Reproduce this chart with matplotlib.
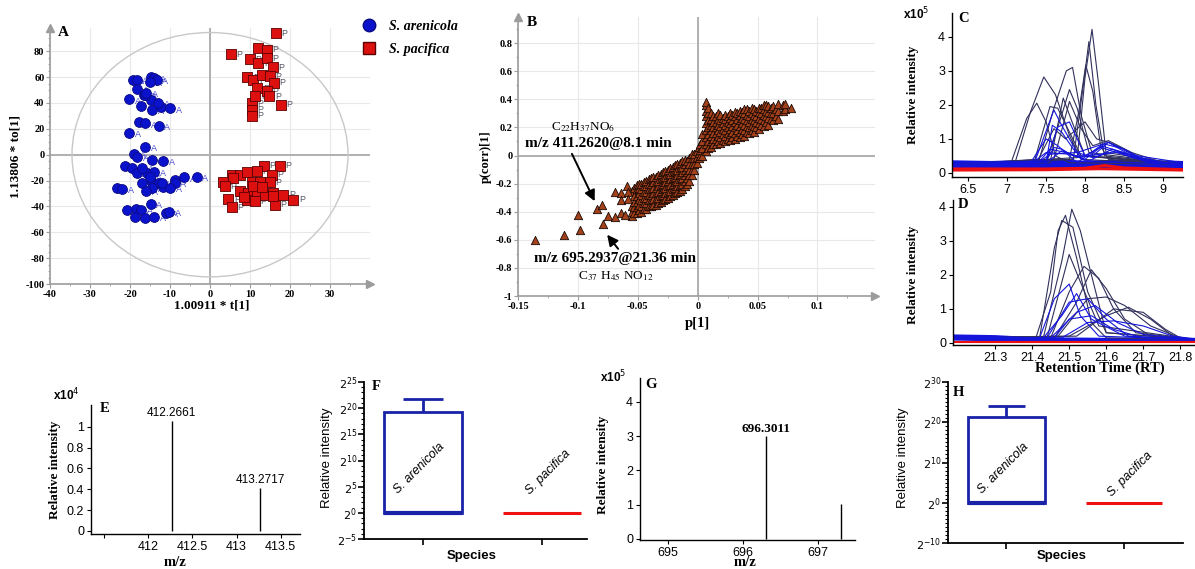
import matplotlib
matplotlib.use('Agg')
import matplotlib.pyplot as plt
from matplotlib.patches import Ellipse
from matplotlib.ticker import MultipleLocator, FuncFormatter

plt.rcParams['axes.unicode_minus'] = False

W, H = 1195, 569
SERIF = 'Liberation Serif'
SANS = 'Liberation Sans'

# ---- panel A: OPLS-DA scores ----
are_x = [-19.3, -18.3, -14.8, -14.0, -13.3, -18.2, -16.5, -20.2, -14.8, -16.2, -17.2, -14.5,
         -12.2, -10.0, -17.7, -16.2, -12.8, -20.2, -16.2, -19.0, -18.2, -14.5, -11.7, -21.3,
         -19.5, -18.3, -15.8, -14.0, -17.0, -14.5, -12.7, -14.5, -11.7, -8.8, -6.5, -3.3,
         -8.8, -23.3, -22.0, -18.5, -17.2, -20.7, -18.8, -16.2, -14.0, -14.8, -11.0, -10.2,
         -15.0, -16.0, -13.0, -12.0, -15.0, -17.0, -16.0, -10.0]
are_y = [58.1, 57.6, 60.2, 59.7, 57.6, 51.2, 46.0, 42.7, 42.2, 46.0, 37.6, 34.5,
         37.0, 35.8, 25.5, 24.2, 22.4, 17.0, 6.2, 0.5, -1.5, -4.1, -4.9, -8.5,
         -10.5, -13.9, -13.9, -13.1, -21.6, -20.8, -22.1, -26.0, -25.2, -19.5, -17.5, -17.0,
         -21.6, -25.5, -26.5, -42.2, -42.7, -42.7, -48.4, -48.9, -47.8, -38.1, -44.8, -44.2,
         56.0, 48.0, 40.0, -22.0, -17.0, -10.0, -28.0, -26.0]
pac_x = [16.5, 5.2, 12.1, 14.2, 10.0, 12.1, 14.2, 15.7, 9.3, 10.8, 12.9, 15.0, 16.0, 11.8,
         14.2, 14.8, 17.7, 10.4, 10.4, 10.4, 11.3,
         13.5, 17.5, 5.4, 7.5, 9.3, 11.7, 15.4, 3.3, 5.8, 10.4, 12.5, 15.0, 3.75, 7.5, 9.6,
         11.7, 13.75, 15.8, 18.3, 20.8, 4.6, 5.4, 9.2, 11.25, 16.25, 15.8, 10.8, 13.0, 8.5]
pac_y = [93.9, 77.7, 82.4, 81.2, 73.8, 70.8, 74.7, 67.6, 59.9, 57.9, 61.8, 61.0, 55.8, 51.5,
         49.0, 45.2, 38.7, 40.0, 34.9, 30.3, 45.5,
         -8.5, -8.5, -15.4, -15.4, -13.6, -12.9, -15.4, -21.3, -17.9, -21.3, -21.3, -21.3, -24.4,
         -28.3, -29.6, -28.3, -30.9, -29.6, -30.9, -34.7, -34.2, -40.3, -34.7, -35.9, -38.6,
         -31.7, -24.4, -25.0, -33.0]

# ---- panel B: S-plot, columns of (p[1], [p(corr)[1] ...]) ----
splot_cols = [
    (-0.055, [-0.43, -0.40, -0.36, -0.25]),
    (-0.053, [-0.41, -0.37, -0.33, -0.29, -0.23]),
    (-0.051, [-0.41, -0.37, -0.33, -0.29, -0.24, -0.21]),
    (-0.049, [-0.39, -0.35, -0.31, -0.27, -0.23, -0.20]),
    (-0.047, [-0.40, -0.36, -0.32, -0.28, -0.24, -0.20]),
    (-0.045, [-0.38, -0.34, -0.30, -0.26, -0.22, -0.19]),
    (-0.043, [-0.38, -0.34, -0.30, -0.26, -0.22, -0.18]),
    (-0.041, [-0.36, -0.32, -0.28, -0.24, -0.20, -0.17]),
    (-0.039, [-0.36, -0.32, -0.28, -0.24, -0.20, -0.16]),
    (-0.037, [-0.35, -0.31, -0.27, -0.23, -0.19, -0.15]),
    (-0.035, [-0.35, -0.31, -0.27, -0.23, -0.19, -0.15]),
    (-0.033, [-0.34, -0.30, -0.26, -0.22, -0.18, -0.14]),
    (-0.031, [-0.33, -0.29, -0.25, -0.21, -0.17, -0.13]),
    (-0.029, [-0.32, -0.28, -0.24, -0.20, -0.16, -0.12]),
    (-0.027, [-0.31, -0.27, -0.23, -0.19, -0.15, -0.11]),
    (-0.025, [-0.30, -0.26, -0.22, -0.18, -0.14, -0.10]),
    (-0.023, [-0.29, -0.25, -0.21, -0.17, -0.13, -0.09]),
    (-0.021, [-0.28, -0.24, -0.20, -0.16, -0.12, -0.08]),
    (-0.019, [-0.27, -0.23, -0.19, -0.15, -0.11, -0.07]),
    (-0.017, [-0.26, -0.22, -0.18, -0.14, -0.10, -0.06]),
    (-0.015, [-0.25, -0.21, -0.17, -0.13, -0.09, -0.05]),
    (-0.013, [-0.24, -0.20, -0.16, -0.12, -0.08, -0.04]),
    (-0.011, [-0.22, -0.18, -0.14, -0.10, -0.06, -0.03]),
    (-0.009, [-0.20, -0.16, -0.12, -0.08, -0.04]),
    (-0.007, [-0.18, -0.14, -0.10, -0.06, -0.02]),
    (-0.005, [-0.14, -0.10, -0.06, -0.02, 0.01]),
    (-0.003, [-0.10, -0.06, -0.02, 0.01]),
    (-0.001, [-0.05, -0.01, 0.03]),
    (0.001, [-0.02, 0.02, 0.06]),
    (0.002, [0.0, 0.04, 0.08]),
    (0.004, [0.0, 0.05, 0.10, 0.15]),
    (0.007, [0.03, 0.08, 0.13, 0.18, 0.23, 0.28, 0.32, 0.36, 0.38]),
    (0.009, [0.05, 0.10, 0.15, 0.20, 0.25, 0.30, 0.34]),
    (0.011, [0.06, 0.10, 0.14, 0.18, 0.22, 0.26, 0.30]),
    (0.013, [0.08, 0.12, 0.16, 0.20, 0.24, 0.28]),
    (0.015, [0.08, 0.12, 0.16, 0.20, 0.24, 0.28]),
    (0.017, [0.10, 0.14, 0.18, 0.22, 0.26, 0.30]),
    (0.019, [0.09, 0.13, 0.17, 0.21, 0.25, 0.29]),
    (0.021, [0.11, 0.15, 0.19, 0.23, 0.27]),
    (0.023, [0.10, 0.14, 0.18, 0.22, 0.26, 0.29]),
    (0.025, [0.12, 0.16, 0.20, 0.24, 0.28]),
    (0.027, [0.11, 0.15, 0.19, 0.23, 0.27, 0.30]),
    (0.029, [0.13, 0.17, 0.21, 0.25, 0.29]),
    (0.031, [0.12, 0.16, 0.20, 0.24, 0.28, 0.31]),
    (0.033, [0.14, 0.18, 0.22, 0.26, 0.30]),
    (0.035, [0.13, 0.17, 0.21, 0.25, 0.29, 0.32]),
    (0.037, [0.15, 0.19, 0.23, 0.27, 0.31]),
    (0.039, [0.14, 0.18, 0.22, 0.26, 0.30, 0.33]),
    (0.041, [0.17, 0.21, 0.25, 0.29, 0.33]),
    (0.043, [0.16, 0.20, 0.24, 0.28, 0.32]),
    (0.045, [0.18, 0.22, 0.26, 0.30, 0.34]),
    (0.047, [0.17, 0.21, 0.25, 0.29, 0.33]),
    (0.049, [0.20, 0.24, 0.28, 0.32]),
    (0.051, [0.19, 0.23, 0.27, 0.31, 0.34]),
    (0.053, [0.22, 0.26, 0.30, 0.34]),
    (0.055, [0.21, 0.25, 0.29, 0.33, 0.36]),
    (0.057, [0.24, 0.28, 0.32, 0.36]),
    (0.059, [0.22, 0.27, 0.31, 0.35]),
    (0.061, [0.26, 0.30, 0.34]),
    (0.063, [0.25, 0.30, 0.35]),
    (0.065, [0.28, 0.33]),
    (0.067, [0.26, 0.32, 0.37]),
    (0.071, [0.32, 0.36]),
    (0.073, [0.33, 0.37]),
    (0.078, [0.34]),
]
outlier_x = [-0.136, -0.112, -0.100, -0.098, -0.084, -0.080, -0.079, -0.075, -0.069, -0.069,
             -0.064, -0.064, -0.059, -0.058, -0.058, -0.064, -0.061]
outlier_y = [-0.60, -0.567, -0.42, -0.53, -0.38, -0.35, -0.49, -0.43, -0.44, -0.257,
             -0.27, -0.32, -0.214, -0.26, -0.31, -0.41, -0.42]

# ---- panels C, D: extracted ion chromatograms (x10^5) ----
c_dark = [
    [(6.3, 0.25), (7.05, 0.3), (7.25, 1.6), (7.38, 2.05), (7.5, 1.5), (7.62, 0.5), (7.8, 0.3), (9.25, 0.25)],
    [(6.3, 0.25), (7.1, 0.3), (7.3, 1.8), (7.47, 2.82), (7.62, 2.3), (7.8, 1.1), (7.95, 0.4), (9.25, 0.25)],
    [(6.3, 0.25), (7.4, 0.3), (7.6, 1.9), (7.76, 3.0), (7.84, 3.1), (7.95, 1.7), (8.1, 0.5), (9.25, 0.25)],
    [(6.3, 0.25), (7.5, 0.3), (7.7, 1.7), (7.8, 2.45), (7.9, 1.9), (8.05, 0.6), (9.25, 0.25)],
    [(6.3, 0.25), (7.55, 0.3), (7.72, 2.2), (7.85, 1.4), (8.0, 0.5), (9.25, 0.25)],
    [(6.3, 0.25), (7.35, 0.35), (7.55, 1.95), (7.65, 1.9), (7.8, 1.2), (7.95, 0.5), (9.25, 0.25)],
    [(6.3, 0.25), (7.8, 0.4), (7.92, 1.8), (8.01, 3.17), (8.1, 2.4), (8.2, 0.8), (8.3, 0.4), (9.25, 0.25)],
    [(6.3, 0.25), (7.85, 0.4), (7.98, 2.6), (8.05, 3.86), (8.14, 2.0), (8.25, 0.5), (9.25, 0.25)],
    [(6.3, 0.25), (7.9, 0.45), (8.0, 2.8), (8.09, 4.22), (8.17, 2.7), (8.27, 0.6), (9.25, 0.25)],
    [(6.3, 0.25), (7.4, 0.4), (7.6, 1.3), (7.75, 1.0), (8.0, 1.5), (8.15, 1.0), (8.3, 0.9), (8.5, 0.7), (8.8, 0.3), (9.25, 0.25)],
    [(6.3, 0.25), (7.6, 0.4), (7.8, 2.1), (7.95, 1.3), (8.1, 0.8), (8.3, 0.95), (8.6, 0.6), (9.0, 0.3), (9.25, 0.25)],
]
c_blue = [
    [(6.3, 0.3), (7.3, 0.3), (7.5, 1.0), (7.65, 0.8), (7.9, 0.3), (8.2, 0.8), (8.5, 0.6), (8.8, 0.3), (9.25, 0.28)],
    [(6.3, 0.2), (7.35, 0.3), (7.6, 1.85), (7.7, 1.4), (7.9, 0.6), (8.3, 0.9), (8.6, 0.5), (9.25, 0.2)],
    [(6.3, 0.22), (7.4, 0.3), (7.55, 0.7), (7.75, 0.6), (8.0, 0.4), (8.25, 0.85), (8.5, 0.7), (8.8, 0.35), (9.25, 0.22)],
    [(6.3, 0.18), (7.3, 0.25), (7.5, 0.6), (7.8, 0.55), (8.05, 0.35), (8.35, 0.7), (8.6, 0.45), (9.25, 0.2)],
    [(6.3, 0.15), (7.45, 0.2), (7.7, 0.65), (7.95, 0.45), (8.2, 0.75), (8.55, 0.5), (8.9, 0.25), (9.25, 0.15)],
    [(6.3, 0.3), (7.5, 0.35), (7.65, 1.35), (7.8, 1.5), (8.0, 0.5), (8.4, 0.6), (9.25, 0.3)],
    [(6.3, 0.28), (7.5, 0.35), (7.6, 0.75), (7.7, 0.7), (7.85, 0.5), (8.1, 0.5), (8.3, 0.9), (8.45, 0.75), (8.7, 0.4), (9.25, 0.25)],
    [(6.3, 0.2), (7.4, 0.3), (7.55, 0.55), (7.9, 0.6), (8.1, 0.45), (8.4, 0.65), (8.7, 0.45), (9.0, 0.3), (9.25, 0.2)],
    [(6.3, 0.25), (7.5, 0.3), (7.58, 1.4), (7.7, 1.2), (7.85, 0.7), (8.0, 0.35), (9.25, 0.25)],
]
c_base = [
    [(6.3, 0.31), (6.8, 0.29), (7.2, 0.32), (7.6, 0.34), (8.0, 0.3), (8.6, 0.34), (9.25, 0.29)],
    [(6.3, 0.23), (6.8, 0.21), (7.2, 0.24), (7.6, 0.27), (8.0, 0.24), (8.6, 0.29), (9.25, 0.21)],
    [(6.3, 0.15), (6.8, 0.14), (7.2, 0.17), (7.6, 0.2), (8.0, 0.17), (8.6, 0.2), (9.25, 0.14)],
]
c_red = [
    [(6.3, 0.12), (7.5, 0.12), (8.0, 0.14), (8.25, 0.22), (8.5, 0.15), (9.25, 0.1)],
    [(6.3, 0.08), (7.5, 0.09), (8.2, 0.12), (9.25, 0.08)],
]
d_dark = [
    [(21.19, 0.15), (21.41, 0.15), (21.45, 1.5), (21.47, 3.3), (21.49, 3.75), (21.52, 2.5), (21.56, 0.6), (21.6, 0.15), (21.84, 0.1)],
    [(21.19, 0.15), (21.43, 0.15), (21.48, 2.4), (21.507, 3.93), (21.53, 3.3), (21.56, 2.0), (21.6, 0.3), (21.84, 0.1)],
    [(21.19, 0.15), (21.42, 0.15), (21.46, 2.8), (21.48, 3.6), (21.51, 3.4), (21.55, 1.5), (21.6, 0.3), (21.84, 0.1)],
    [(21.19, 0.15), (21.44, 0.15), (21.5, 2.6), (21.53, 1.8), (21.58, 0.5), (21.84, 0.1)],
    [(21.19, 0.15), (21.45, 0.15), (21.5, 1.5), (21.54, 2.25), (21.58, 1.9), (21.62, 1.0), (21.68, 0.3), (21.84, 0.1)],
    [(21.19, 0.15), (21.46, 0.15), (21.52, 1.2), (21.56, 2.15), (21.6, 1.6), (21.65, 0.7), (21.72, 0.2), (21.84, 0.1)],
    [(21.19, 0.15), (21.5, 0.2), (21.6, 0.8), (21.66, 1.05), (21.72, 0.7), (21.78, 0.2), (21.84, 0.1)],
    [(21.19, 0.15), (21.52, 0.2), (21.62, 1.0), (21.7, 0.9), (21.76, 0.4), (21.8, 0.15), (21.84, 0.1)],
    [(21.19, 0.15), (21.47, 0.2), (21.55, 1.3), (21.6, 1.35), (21.65, 1.1), (21.72, 0.5), (21.8, 0.15), (21.84, 0.1)],
]
d_blue = [
    [(21.19, 0.2), (21.42, 0.15), (21.46, 1.3), (21.5, 1.73), (21.53, 0.8), (21.58, 0.2), (21.84, 0.1)],
    [(21.19, 0.18), (21.44, 0.15), (21.5, 1.2), (21.55, 1.3), (21.6, 0.7), (21.66, 0.2), (21.84, 0.1)],
    [(21.19, 0.16), (21.45, 0.15), (21.52, 0.9), (21.57, 1.1), (21.63, 0.6), (21.7, 0.25), (21.84, 0.1)],
    [(21.19, 0.14), (21.46, 0.15), (21.5, 0.7), (21.56, 0.8), (21.62, 0.4), (21.7, 0.15), (21.84, 0.1)],
    [(21.19, 0.2), (21.43, 0.15), (21.48, 0.8), (21.52, 1.45), (21.56, 0.7), (21.65, 0.2), (21.84, 0.1)],
    [(21.19, 0.12), (21.48, 0.15), (21.55, 0.6), (21.62, 0.65), (21.7, 0.5), (21.78, 0.2), (21.84, 0.12)],
]
d_base = [
    [(21.19, 0.2), (21.3, 0.18), (21.4, 0.12), (21.6, 0.1), (21.84, 0.1)],
    [(21.19, 0.12), (21.4, 0.08), (21.84, 0.08)],
]
d_red = [[(21.19, 0.04), (21.84, 0.04)]]

# ---- panels E, G: mass spectra ----
e_mz = [412.2661, 413.2717]
e_int = [1.06, 0.41]          # x10^4
g_mz = [696.3011, 697.31]
g_int = [3.0, 1.03]           # x10^5

# ---- panels F, H: intensity per species (log2 exponent) ----
species = ['S. arenicola', 'S. pacifica']
f_exp = [19.2, 0.0]
f_err = 21.7
h_exp = [21.3, 0.0]
h_err = 24.0

fig = plt.figure(figsize=(W / 100, H / 100), dpi=100)


def add_ax(l, t, r, b):
    return fig.add_axes([l / W, 1 - b / H, (r - l) / W, (b - t) / H])


def ftext(x, y, s, **kw):
    return fig.text(x / W, 1 - y / H, s, **kw)


def style_ticks(ax, family, weight, size):
    for lab in ax.get_xticklabels() + ax.get_yticklabels():
        lab.set_fontfamily(family)
        lab.set_fontweight(weight)
        lab.set_fontsize(size)


def basic_spines(ax, color='black', lw=1.0):
    for s in ['top', 'right']:
        ax.spines[s].set_visible(False)
    for s in ['left', 'bottom']:
        ax.spines[s].set_color(color)
        ax.spines[s].set_linewidth(lw)


def arrow_heads(ax, color):
    ax.plot([0], [1], marker='^', ms=6, color=color, transform=ax.transAxes, clip_on=False)
    ax.plot([1], [0], marker='>', ms=6, color=color, transform=ax.transAxes, clip_on=False)


fmt = FuncFormatter(lambda v, p: '%g' % round(v, 4))
GRAY = '#9c9c9c'

# ---------------- A ----------------
axA = add_ax(50, 28, 370, 284)
axA.set_xlim(-40, 40)
axA.set_ylim(-100, 98)
basic_spines(axA, GRAY, 1.2)
arrow_heads(axA, GRAY)
axA.set_xticks(range(-40, 31, 10))
axA.set_yticks(range(-100, 81, 20))
axA.xaxis.set_minor_locator(MultipleLocator(5))
axA.yaxis.set_minor_locator(MultipleLocator(5))
axA.tick_params(which='both', color=GRAY, length=3, pad=1)
axA.tick_params(which='minor', length=1.5)
axA.grid(True, color='#e8e8e8', lw=0.8)
axA.set_axisbelow(True)
axA.axhline(0, color='#b0b0b0', lw=1.4, zorder=1)
axA.axvline(0, color='#b0b0b0', lw=1.4, zorder=1)
axA.add_patch(Ellipse((0, 0), 69, 189, fill=False, ec='#c8c8c8', lw=1, zorder=1))
axA.scatter(are_x, are_y, s=50, c='#0b12cc', edgecolors='#0a0a80', linewidths=0.6, zorder=3)
axA.scatter(pac_x, pac_y, s=55, marker='s', c='#dd1010', edgecolors='#5a0000', linewidths=0.6, zorder=3)
for x, y in zip(are_x, are_y):
    axA.annotate('A', (x, y), xytext=(4, -3), textcoords='offset points', fontsize=6.5,
                 color='#4a4ad0', fontfamily=SANS, zorder=2)
for x, y in zip(pac_x, pac_y):
    axA.annotate('P', (x, y), xytext=(4, -2), textcoords='offset points', fontsize=6.5,
                 color='#555566', fontfamily=SANS, zorder=2)
style_ticks(axA, SERIF, 'bold', 7.5)
ftext(58, 33, 'A', fontfamily=SERIF, fontweight='bold', fontsize=11, va='center')
ftext(212, 305, '1.00911 * t[1]', fontfamily=SERIF, fontweight='bold', fontsize=9.5, ha='center', va='center')
ftext(16, 157, '1.13806 * to[1]', fontfamily=SERIF, fontweight='bold', fontsize=9.5, ha='center', va='center',
      rotation=90)
hA1 = plt.Line2D([], [], marker='o', ls='none', ms=9, color='#0b12cc', mec='#0a0a80')
hA2 = plt.Line2D([], [], marker='s', ls='none', ms=8, color='#dd1010', mec='#5a0000')
fig.legend([hA1, hA2], species, loc='upper left', bbox_to_anchor=(345 / W, 1 - 10 / H), frameon=False,
           prop={'family': SERIF, 'weight': 'bold', 'style': 'italic', 'size': 10}, handletextpad=0.5,
           labelspacing=0.75, borderpad=0.2)

# ---------------- B ----------------
axB = add_ax(518, 17, 875, 296)
axB.set_xlim(-0.15, 0.148)
axB.set_ylim(-1, 0.986)
basic_spines(axB, GRAY, 1.2)
arrow_heads(axB, GRAY)
axB.set_xticks([-0.15, -0.1, -0.05, 0, 0.05, 0.1])
axB.set_yticks([-1, -0.8, -0.6, -0.4, -0.2, 0, 0.2, 0.4, 0.6, 0.8])
axB.xaxis.set_minor_locator(MultipleLocator(0.025))
axB.yaxis.set_minor_locator(MultipleLocator(0.1))
axB.xaxis.set_major_formatter(fmt)
axB.yaxis.set_major_formatter(fmt)
axB.tick_params(which='both', color=GRAY, length=3, pad=1)
axB.tick_params(which='minor', length=1.5)
axB.grid(True, color='#e8e8e8', lw=0.8)
axB.set_axisbelow(True)
axB.axhline(0, color='#b0b0b0', lw=1.4, zorder=1)
axB.axvline(0, color='#b0b0b0', lw=1.4, zorder=1)
bx = [c[0] for c in splot_cols for _ in c[1]] + outlier_x
by = [y for c in splot_cols for y in c[1]] + outlier_y
axB.scatter(bx, by, s=36, marker='^', c='#a3411b', edgecolors='#1a0a05', linewidths=0.6, zorder=3)
style_ticks(axB, SERIF, 'bold', 7.5)
axB.annotate('', xy=(-0.085, -0.343), xytext=(-0.106, 0.03),
             arrowprops=dict(arrowstyle='-|>', color='black', lw=1.4, mutation_scale=16))
axB.annotate('', xy=(-0.077, -0.548), xytext=(-0.065, -0.68),
             arrowprops=dict(arrowstyle='-|>', color='black', lw=1.4, mutation_scale=16))
ftext(583, 127, r'C$_{22}$H$_{37}$NO$_{6}$', fontfamily=SERIF, math_fontfamily='stix', fontsize=9.5,
      ha='center', va='center')
ftext(598, 144, 'm/z 411.2620@8.1 min', fontfamily=SERIF, fontweight='bold', fontsize=11,
      ha='center', va='center')
ftext(615, 259, 'm/z 695.2937@21.36 min', fontfamily=SERIF, fontweight='bold', fontsize=11,
      ha='center', va='center')
ftext(616, 276, r'C$_{37}$ H$_{45}$ NO$_{12}$', fontfamily=SERIF, math_fontfamily='stix', fontsize=9.5,
      ha='center', va='center')
ftext(527, 22, 'B', fontfamily=SERIF, fontweight='bold', fontsize=11, va='center')
ftext(697, 323, 'p[1]', fontfamily=SERIF, fontweight='bold', fontsize=10.5, ha='center', va='center')
ftext(486, 157, 'p(corr)[1]', fontfamily=SERIF, fontweight='bold', fontsize=9, ha='center', va='center',
      rotation=90)

# ---------------- C / D ----------------
DARK = '#30305c'
BLUE = '#1414dc'
RED = '#ee1010'


def draw_traces(ax, traces, color, lw):
    for tr in traces:
        ax.plot([p[0] for p in tr], [p[1] for p in tr], color=color, lw=lw)


axC = add_ax(952, 13, 1183, 177)
axC.set_xlim(6.29, 9.26)
axC.set_ylim(-0.12, 4.7)
basic_spines(axC)
draw_traces(axC, c_base, BLUE, 3.0)
draw_traces(axC, c_dark, DARK, 0.8)
draw_traces(axC, c_blue, BLUE, 0.8)
draw_traces(axC, c_red, RED, 2.0)
axC.set_xticks([6.5, 7, 7.5, 8, 8.5, 9])
axC.set_yticks([0, 1, 2, 3, 4])
axC.xaxis.set_major_formatter(fmt)
axC.tick_params(length=3, pad=2)
style_ticks(axC, SANS, 'normal', 9)
ftext(958, 18, 'C', fontfamily=SERIF, fontweight='bold', fontsize=10.5, va='center')
ftext(903, 14, r'x10$^{5}$', fontfamily=SANS, fontweight='bold', fontsize=8.5, va='center')
ftext(913, 95, 'Relative intensity', fontfamily=SERIF, fontweight='bold', fontsize=9.5, ha='center',
      va='center', rotation=90)

axD = add_ax(953, 200, 1195, 345)
axD.set_xlim(21.186, 21.84)
axD.set_ylim(-0.06, 4.2)
basic_spines(axD)
draw_traces(axD, d_base, BLUE, 2.5)
draw_traces(axD, d_dark, DARK, 0.8)
draw_traces(axD, d_blue, BLUE, 0.8)
draw_traces(axD, d_red, RED, 1.5)
axD.set_xticks([21.3, 21.4, 21.5, 21.6, 21.7, 21.8])
axD.set_yticks([0, 1, 2, 3, 4])
axD.xaxis.set_major_formatter(fmt)
axD.tick_params(length=3, pad=2)
style_ticks(axD, SANS, 'normal', 9)
ftext(958, 205, 'D', fontfamily=SERIF, fontweight='bold', fontsize=10.5, va='center')
ftext(913, 275, 'Relative intensity', fontfamily=SERIF, fontweight='bold', fontsize=9.5, ha='center',
      va='center', rotation=90)
ftext(1100, 368, 'Retention Time (RT)', fontfamily=SERIF, fontweight='bold', fontsize=10.5, ha='center',
      va='center')

# ---------------- E ----------------
axE = add_ax(91, 405, 300, 534)
axE.set_xlim(411.35, 413.72)
axE.set_ylim(-0.03, 1.21)
basic_spines(axE)
axE.vlines(e_mz, 0, e_int, color='black', lw=1)
for m, v in zip(e_mz, e_int):
    axE.text(m, v + 0.02, '%.4f' % m, fontfamily=SANS, fontsize=8.5, ha='center', va='bottom')
axE.set_xticks([411.5, 412, 412.5, 413, 413.5])
axE.set_xticklabels(['', '412', '412.5', '413', '413.5'])
axE.set_yticks([0, 0.2, 0.4, 0.6, 0.8, 1])
axE.yaxis.set_major_formatter(fmt)
axE.tick_params(length=3, pad=2)
style_ticks(axE, SANS, 'normal', 9)
ftext(100, 409, 'E', fontfamily=SERIF, fontweight='bold', fontsize=10.5, va='center')
ftext(53, 395, r'x10$^{4}$', fontfamily=SANS, fontweight='bold', fontsize=8.5, va='center')
ftext(55, 470, 'Relative intensity', fontfamily=SERIF, fontweight='bold', fontsize=9.5, ha='center',
      va='center', rotation=90)
ftext(175, 562, 'm/z', fontfamily=SERIF, fontweight='bold', fontsize=10.5, ha='center', va='center')

# ---------------- G ----------------
axG = add_ax(640, 378, 855, 540)
axG.set_xlim(694.63, 697.49)
axG.set_ylim(-0.03, 4.7)
basic_spines(axG)
axG.vlines(g_mz, 0, g_int, color='black', lw=1)
axG.text(g_mz[0], g_int[0] + 0.05, '%.4f' % g_mz[0], fontfamily=SERIF, fontweight='bold', fontsize=9.5,
         ha='center', va='bottom')
axG.set_xticks([695, 696, 697])
axG.set_yticks([0, 1, 2, 3, 4])
axG.tick_params(length=3, pad=2)
style_ticks(axG, SANS, 'normal', 9)
ftext(645, 384, 'G', fontfamily=SERIF, fontweight='bold', fontsize=10.5, va='center')
ftext(600, 377, r'x10$^{5}$', fontfamily=SANS, fontweight='bold', fontsize=8.5, va='center')
ftext(603, 465, 'Relative intensity', fontfamily=SERIF, fontweight='bold', fontsize=9.5, ha='center',
      va='center', rotation=90)
ftext(745, 562, 'm/z', fontfamily=SERIF, fontweight='bold', fontsize=10.5, ha='center', va='center')


# ---------------- F / H ----------------
def species_panel(ax, exps, err, lo, hi, step, xmax, cap, txt_y):
    ax.set_yscale('log', base=2)
    ax.set_ylim(2.0 ** lo, 2.0 ** hi)
    ax.set_xlim(-0.496, xmax)
    basic_spines(ax, 'black', 1.3)
    top = 2.0 ** exps[0]
    ax.bar(0, top - 1, bottom=1, width=0.66, fill=False, edgecolor='#1a22a8', lw=2.0)
    ax.hlines(1, -0.33, 0.33, color='#1a22a8', lw=3)
    ax.vlines(0, top, 2.0 ** err, color='#1a22a8', lw=2.0)
    ax.hlines(2.0 ** err, -cap, cap, color='#1a22a8', lw=2.0)
    ax.hlines(2.0 ** exps[1], 0.675, 1.325, color='#ee1111', lw=2.2)
    ax.text(-0.03, 2.0 ** txt_y[0], species[0], rotation=45, fontfamily=SANS, style='italic', fontsize=9,
            ha='center', va='center')
    ax.text(1.05, 2.0 ** txt_y[1], species[1], rotation=45, fontfamily=SANS, style='italic', fontsize=9,
            ha='center', va='center')
    majors = list(range(lo, hi + 1, step))
    ax.set_yticks([2.0 ** k for k in majors])
    ax.set_yticks([2.0 ** k for k in range(lo, hi + 1)], minor=True)
    ax.set_yticklabels([r'$2^{%d}$' % k for k in majors])
    ax.yaxis.set_minor_formatter(FuncFormatter(lambda v, p: ''))
    ax.set_xticks([0, 1])
    ax.set_xticklabels(['', ''])
    ax.tick_params(which='major', length=4, width=1.2, pad=1, labelsize=8)
    ax.tick_params(which='minor', length=2, width=0.8)


axF = add_ax(364, 382, 587, 539)
species_panel(axF, f_exp, f_err, -5, 25, 5, 1.378, 0.17, (8.5, 7.8))
ftext(372, 387, 'F', fontfamily=SERIF, fontweight='bold', fontsize=10.5, va='center')
ftext(327, 458, 'Relative intensity', fontfamily=SANS, fontsize=9.5, ha='center', va='center', rotation=90)
ftext(472, 556, 'Species', fontfamily=SANS, fontweight='bold', fontsize=9.5, ha='center', va='center')

axH = add_ax(948, 382, 1183, 543)
species_panel(axH, h_exp, h_err, -10, 30, 10, 1.5, 0.155, (8.5, 7.0))
ftext(953, 393, 'H', fontfamily=SERIF, fontweight='bold', fontsize=10.5, va='center')
ftext(903, 458, 'Relative intensity', fontfamily=SANS, fontsize=9.5, ha='center', va='center', rotation=90)
ftext(1062, 556, 'Species', fontfamily=SANS, fontweight='bold', fontsize=9.5, ha='center', va='center')

fig.savefig('out.png', dpi=100)
